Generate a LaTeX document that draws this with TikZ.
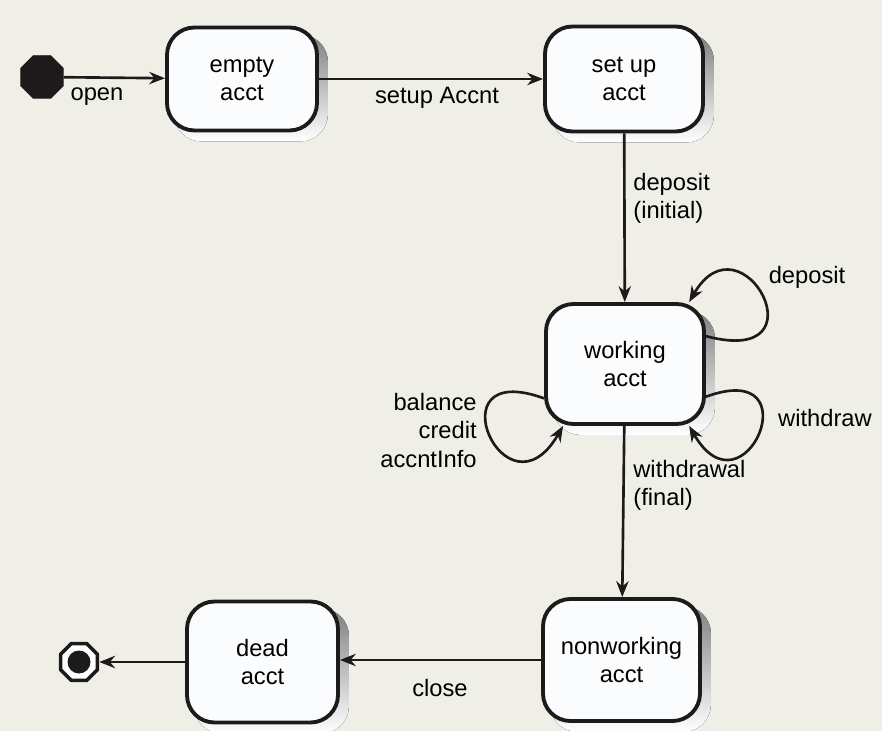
\documentclass[tikz,border=0pt]{standalone}
\usepackage{fontspec}
\setmainfont{Liberation Sans}
\usepackage{xcolor}
\usetikzlibrary{shapes.geometric,arrows.meta}
\definecolor{paper}{RGB}{240,239,231}
\definecolor{boxfill}{RGB}{251,252,254}
\definecolor{ink}{RGB}{28,26,26}
\definecolor{shade}{RGB}{135,135,135}
\pgfdeclarelayer{paperlayer}
\pgfdeclarelayer{shadowlayer}
\pgfsetlayers{paperlayer,shadowlayer,main}

\begin{document}
\begin{tikzpicture}[
    state/.style={rectangle, rounded corners=0.55cm, draw=ink, line width=2.2pt,
                  fill=boxfill, align=center, font=\fontsize{13.5}{16}\selectfont},
    lbl/.style={font=\fontsize{13.5}{16}\selectfont, inner sep=0pt},
    arrow/.style={-{Stealth[length=9pt,width=7pt]}, line width=1.5pt, draw=ink}
]
\begin{pgfonlayer}{paperlayer}
\fill[paper] (0,0) rectangle (17.64,-14.62);
\end{pgfonlayer}
\useasboundingbox (0,0) rectangle (17.64,-14.62);

% pseudo states
\node[regular polygon, regular polygon sides=8, fill=ink, draw=ink,
      minimum size=0.92cm, inner sep=0pt] (init) at (0.84,-1.54) {};
\node[regular polygon, regular polygon sides=8, draw=ink, line width=2pt,
      fill=white, minimum size=0.8cm, inner sep=0pt] (final) at (1.58,-13.24) {};
\fill[ink] (final) circle (0.23cm);

% states
\node[state, minimum width=3.0cm, minimum height=2.06cm] (empty) at (4.84,-1.58) {empty\\acct};
\node[state, minimum width=3.16cm, minimum height=2.1cm] (setup) at (12.48,-1.58) {set up\\acct};
\node[state, minimum width=3.16cm, minimum height=2.4cm] (work) at (12.5,-7.28) {working\\acct};
\node[state, minimum width=3.14cm, minimum height=2.44cm] (nonwork) at (12.43,-13.2) {nonworking\\acct};
\node[state, minimum width=3.02cm, minimum height=2.42cm] (dead) at (5.25,-13.24) {dead\\acct};

% shadows
\begin{pgfonlayer}{shadowlayer}
\foreach \s in {empty,setup,work,nonwork,dead}
  \fill[shade, rounded corners=0.55cm]
    ([shift={(0.18,-0.18)}]\s.south west) rectangle ([shift={(0.18,-0.18)}]\s.north east);
\end{pgfonlayer}

% transitions
\draw[arrow] (init) -- (empty);
\draw[arrow] (empty) -- (setup);
\draw[arrow] (setup) -- (work);
\draw[arrow] (work) -- (nonwork);
\draw[arrow] (nonwork.west) -- (dead.east |- nonwork.west);
\draw[arrow] (dead) -- (final);

% self transitions
\draw[arrow] (work.19) .. controls +(-15:2.5) and +(60:2.1) .. (work.44);
\draw[arrow] (work.-22) .. controls +(20:2.3) and +(-60:2.2) .. (work.-44);
\draw[arrow] (work.203) .. controls +(160:2.4) and +(240:2.3) .. (work.225);

% labels
\node[lbl] (l-open) at (1.94,-1.94) {open};
\node[lbl] (l-setup) at (8.74,-1.96) {setup Accnt};
\node[lbl, anchor=west, align=left] (l-init) at (12.66,-3.97) {deposit\\(initial)};
\node[lbl, anchor=west, align=left] (l-final) at (12.66,-9.7) {withdrawal\\(final)};
\node[lbl] (l-close) at (8.8,-13.76) {close};
\node[lbl] (l-dep) at (16.14,-5.54) {deposit};
\node[lbl] (l-wd) at (16.5,-8.36) {withdraw};
\node[lbl, anchor=east, align=right] (l-bal) at (9.54,-8.61) {balance\\credit\\accntInfo};
\end{tikzpicture}
\end{document}
